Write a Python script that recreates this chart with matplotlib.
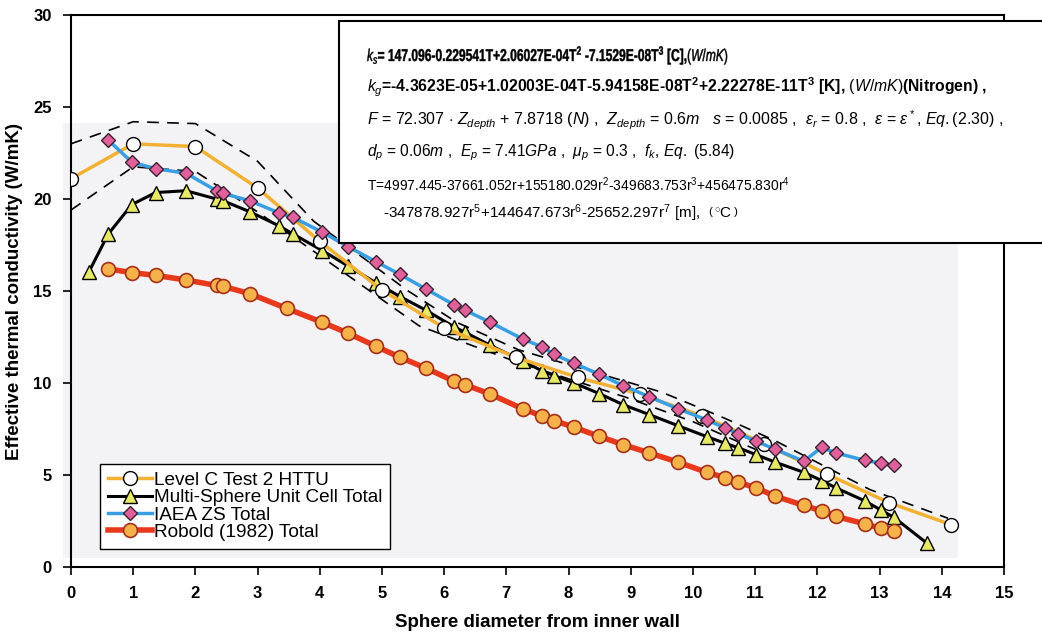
import numpy as np
import matplotlib
matplotlib.use("Agg")
import matplotlib.pyplot as plt
from matplotlib.patches import Rectangle, PathPatch
from matplotlib.textpath import TextPath
from matplotlib.font_manager import FontProperties
from matplotlib.transforms import Affine2D

plt.rcParams['font.family'] = ['Liberation Sans', 'DejaVu Sans']
plt.rcParams['mathtext.fontset'] = 'custom'
plt.rcParams['mathtext.rm'] = 'Liberation Sans'
plt.rcParams['mathtext.it'] = 'Liberation Sans:italic'
plt.rcParams['mathtext.bf'] = 'Liberation Sans:bold'

# Level C Test 2 HTTU measurements
httu_x = [0.0, 1.0, 2.0, 3.0, 4.0, 5.0, 6.0, 7.15, 8.15, 9.15, 10.15, 11.15, 12.15, 13.15, 14.15]
httu_k = [21.1, 23.0, 22.85, 20.6, 17.7, 15.05, 13.0, 11.4, 10.3, 9.4, 8.2, 6.7, 5.05, 3.5, 2.3]

# uncertainty band around the HTTU data
band_hi_x = [0.0, 1.0, 2.0, 3.0, 3.9, 4.5, 5.4, 6.2, 7.2, 8.5, 9.5, 10.5, 11.3, 12.85, 14.1]
band_hi_k = [23.0, 24.2, 24.1, 22.05, 18.8, 17.3, 15.05, 13.3, 11.8, 10.5, 9.5, 8.1, 6.9, 4.2, 2.65]
band_lo_x = [0.0, 1.0, 2.0, 3.0, 3.57, 4.43, 5.6, 7.2, 8.9, 10.0, 11.0]
band_lo_k = [19.4, 21.75, 21.5, 19.3, 17.95, 15.9, 13.1, 11.1, 9.25, 7.9, 6.4]

# Multi-Sphere Unit Cell total
msuc_x = [0.29, 0.6, 0.98, 1.36, 1.85, 2.34, 2.45, 2.88, 3.34, 3.57, 4.04, 4.46, 4.9,
          5.29, 5.71, 6.16, 6.34, 6.74, 7.26, 7.58, 7.77, 8.09, 8.49, 8.88, 9.3, 9.76,
          10.22, 10.52, 10.73, 11.02, 11.32, 11.78, 12.07, 12.3, 12.76, 13.02, 13.23, 13.76]
msuc_k = [16.05, 18.1, 19.7, 20.35, 20.45, 20.0, 19.9, 19.3, 18.55, 18.1, 17.2, 16.35, 15.45,
          14.7, 13.95, 13.05, 12.75, 12.05, 11.2, 10.65, 10.4, 10.0, 9.43, 8.82, 8.28, 7.68,
          7.09, 6.72, 6.48, 6.1, 5.7, 5.15, 4.7, 4.3, 3.6, 3.1, 2.7, 1.3]

# IAEA ZS correlation
iaea_x = [0.6, 0.98, 1.36, 1.85, 2.34, 2.45, 2.88, 3.34, 3.57, 4.04, 4.46, 4.9,
          5.29, 5.71, 6.16, 6.34, 6.74, 7.26, 7.58, 7.77, 8.09, 8.49, 8.88, 9.3, 9.76,
          10.22, 10.52, 10.73, 11.02, 11.32, 11.78, 12.07, 12.3, 12.76, 13.02, 13.23]
iaea_k = [23.2, 22.0, 21.65, 21.4, 20.45, 20.3, 19.9, 19.25, 19.0, 18.2, 17.4, 16.6,
          15.9, 15.1, 14.25, 13.95, 13.3, 12.4, 11.95, 11.55, 11.07, 10.48, 9.85, 9.25, 8.6,
          8.0, 7.55, 7.24, 6.83, 6.4, 5.75, 6.5, 6.2, 5.8, 5.65, 5.55]

# Robold (1982) correlation
robold_x = [0.6, 0.98, 1.36, 1.85, 2.34, 2.45, 2.88, 3.47, 4.04, 4.46, 4.9, 5.29, 5.71,
            6.16, 6.34, 6.74, 7.26, 7.58, 7.77, 8.09, 8.49, 8.88, 9.3, 9.76, 10.22, 10.52,
            10.73, 11.02, 11.32, 11.78, 12.07, 12.3, 12.76, 13.02, 13.23]
robold_k = [16.2, 16.0, 15.85, 15.6, 15.3, 15.25, 14.85, 14.05, 13.3, 12.7, 12.0, 11.4, 10.8,
            10.1, 9.9, 9.4, 8.6, 8.2, 7.95, 7.6, 7.1, 6.65, 6.2, 5.7, 5.15, 4.85,
            4.6, 4.3, 3.85, 3.35, 3.05, 2.75, 2.35, 2.1, 1.95]

# solid conductivity fit, set in a condensed bold face
ks_line = r"$k_s$= 147.096-0.229541T+2.06027E-04T$^\mathbf{2}$ -7.1529E-08T$^\mathbf{3}$ [C],$(W/mK)$"

# (text, size, weight)
box_lines = [
    (r"$k_g$=-4.3623E-05+1.02003E-04T-5.94158E-08T$^\mathbf{2}$+2.22278E-11T$^\mathbf{3}$ [K], $(W/mK)$(Nitrogen) ,",
     11.3, 'bold'),
    (r"$F$ = 72.307 $\cdot$ $Z_{depth}$ + 7.8718 ($N$) ,  $Z_{depth}$ = 0.6$m$   $s$ = 0.0085 ,  $\varepsilon_r$ = 0.8 ,  $\varepsilon$ = $\varepsilon^*$, $Eq.$(2.30) ,",
     11.5, 'normal'),
    (r"$d_p$ = 0.06$m$ ,  $E_p$ = 7.41$GPa$ ,  $\mu_p$ = 0.3 ,  $f_k$, $Eq.$ (5.84)",
     11.2, 'normal'),
    (r"T=4997.445-37661.052r+155180.029r$^2$-349683.753r$^3$+456475.830r$^4$",
     10, 'normal'),
    (r"-347878.927r$^5$+144647.673r$^6$-25652.297r$^7$ [m],  $\left(\,^{\circ}\mathrm{C}\,\right)$",
     11, 'normal'),
]

W, H, DPI = 1042, 641, 100
fig = plt.figure(figsize=(W / DPI, H / DPI), dpi=DPI)
ax = fig.add_axes([0.0681, 0.1154, 0.8954, 0.8612])
ax.set_facecolor('none')

# light grey panel behind the curves
ax.add_patch(Rectangle((-0.009, 0.016), 0.96, 0.788, transform=ax.transAxes,
                       facecolor='#f3f3f5', edgecolor='none', zorder=0, clip_on=False))

ax.plot(band_hi_x, band_hi_k, color='black', lw=1.2, ls=(0, (7, 5)), zorder=2)
ax.plot(band_lo_x, band_lo_k, color='black', lw=1.2, ls=(0, (7, 5)), zorder=2)

ax.plot(httu_x, httu_k, color='#f2b133', lw=2.5, marker='o', ms=10,
        mfc='white', mec='black', mew=1.0, label='Level C Test 2 HTTU', zorder=4)
ax.plot(msuc_x, msuc_k, color='black', lw=2.2, marker='^', ms=10,
        mfc='#e8e868', mec='black', mew=1.0, label='Multi-Sphere Unit Cell Total', zorder=3)
ax.plot(iaea_x, iaea_k, color='#3a9ee2', lw=2.5, marker='D', ms=7.5,
        mfc='#e0609c', mec='#3a2030', mew=1.0, label='IAEA ZS Total', zorder=5)
ax.plot(robold_x, robold_k, color='#e8391d', lw=4, marker='o', ms=10,
        mfc='#f6b24a', mec='#a3301a', mew=1.2, label='Robold (1982) Total', zorder=3)

ax.set_xlim(0, 15)
ax.set_ylim(0, 30)
ax.set_xticks(range(0, 16))
ax.set_yticks(range(0, 31, 5))
ax.tick_params(direction='out', length=6, width=1.2, labelsize=12, pad=8)
for lab in ax.get_xticklabels() + ax.get_yticklabels():
    lab.set_fontweight('bold')
for sp in ax.spines.values():
    sp.set_linewidth(1.5)

ax.set_xlabel('Sphere diameter from inner wall', fontsize=13.5, fontweight='bold', labelpad=9)
ax.set_ylabel('Effective thermal conductivity (W/mK)', fontsize=13.5, fontweight='bold', labelpad=7)

leg = ax.legend(loc='lower left', bbox_to_anchor=(0.031, 0.033), borderaxespad=0,
                fontsize=13.7, handlelength=2.3, handletextpad=0.1, labelspacing=0.0,
                borderpad=0.42, fancybox=False, framealpha=1)
leg.get_frame().set_edgecolor('black')
leg.get_frame().set_linewidth(1.0)

# equation box in the upper right
fig.add_artist(Rectangle((0.3253, 0.6209), 0.7, 0.3463, transform=fig.transFigure,
                         facecolor='white', edgecolor='black', lw=1.5, zorder=5))

# first line: bold glyph outlines squeezed horizontally
ks_path = TextPath((0, 0), ks_line, size=12.3,
                   prop=FontProperties(family='Liberation Sans', weight='bold'))
pt = DPI / 72.0
ks_tf = Affine2D().scale(0.705 * pt, pt).translate(367, H - 61)
fig.add_artist(PathPatch(ks_path, transform=ks_tf, facecolor='black',
                         edgecolor='black', lw=0.3, zorder=6))

line_y = [0.863, 0.812, 0.762, 0.712, 0.668]
for i, ((txt, size, weight), yy) in enumerate(zip(box_lines, line_y)):
    xx = 0.3675 if i == 4 else 0.352
    fig.text(xx, yy, txt, fontsize=size, va='center', ha='left',
             fontweight=weight, zorder=6)

fig.savefig('out.png', dpi=DPI)
